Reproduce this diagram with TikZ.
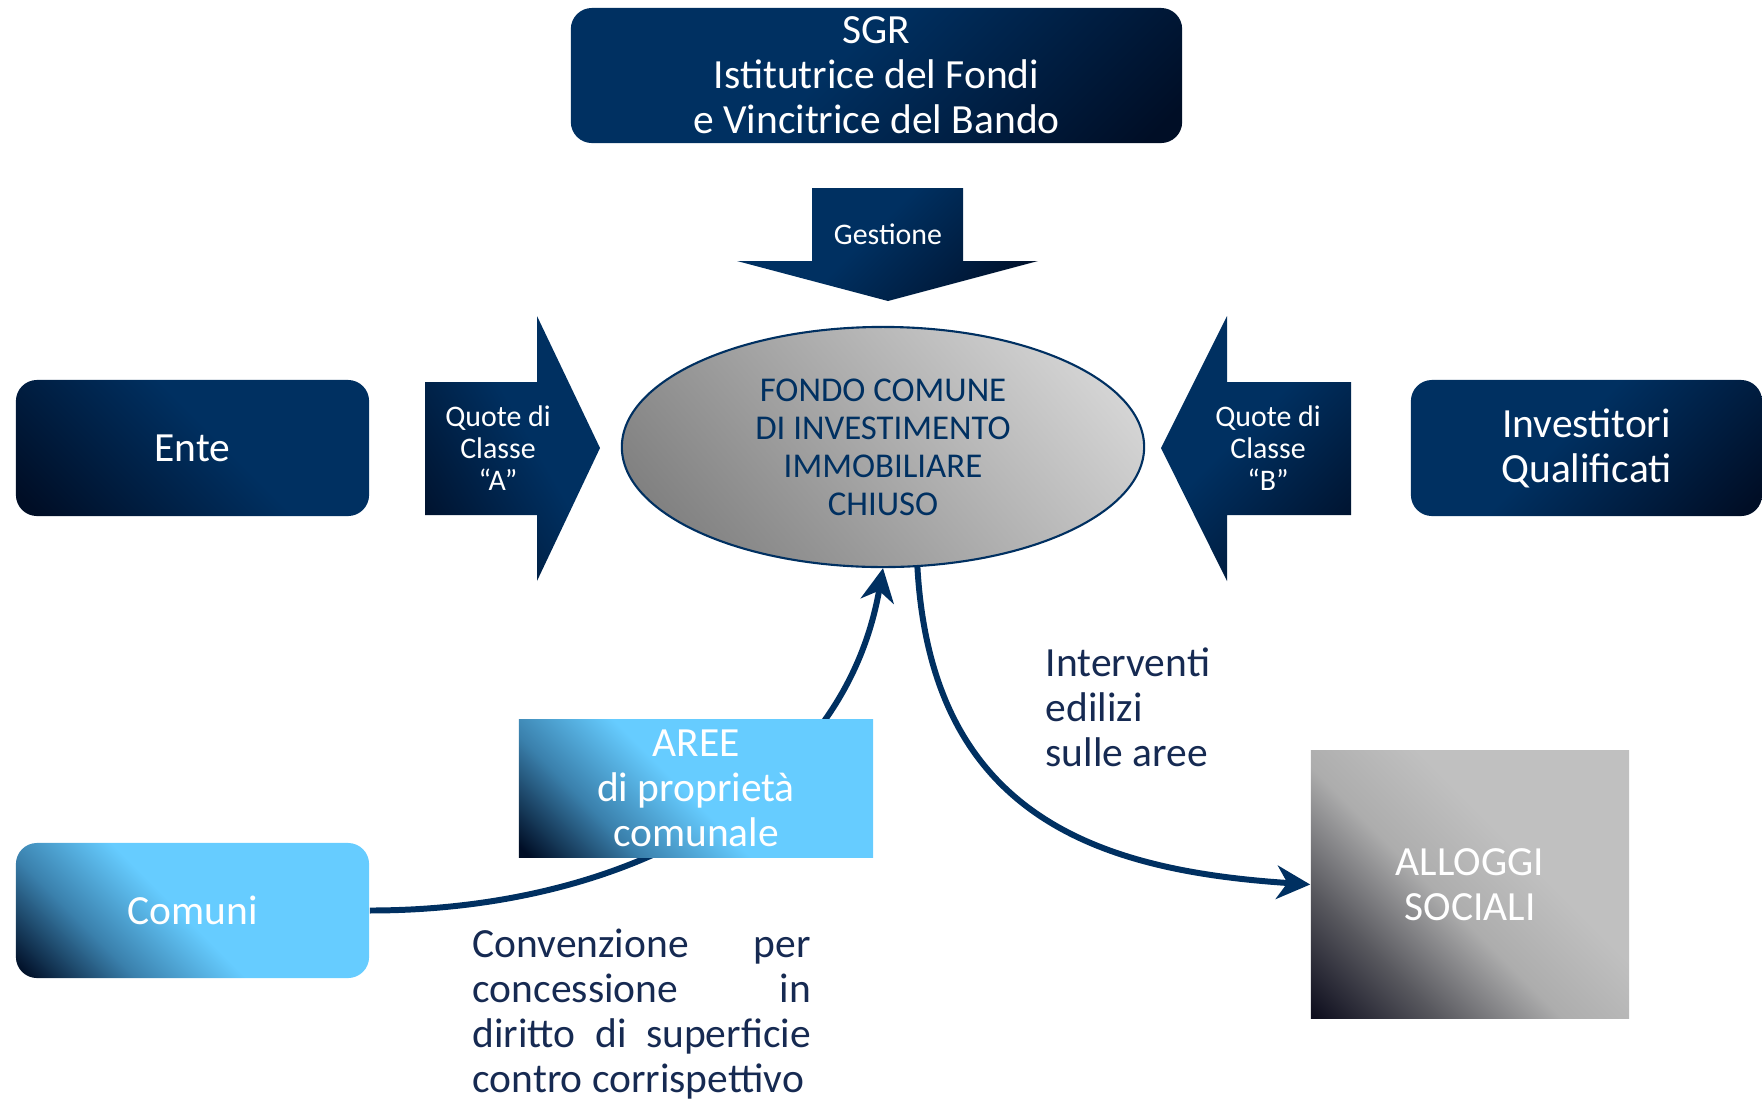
\documentclass[tikz,border=0pt]{standalone}
\usepackage{fontspec}
\setmainfont{Carlito}
\usetikzlibrary{shapes.geometric,arrows.meta}
\definecolor{navy}{RGB}{0,48,97}
\definecolor{navyd}{RGB}{0,14,38}
\definecolor{sky}{RGB}{102,204,255}
\definecolor{skymid}{RGB}{58,128,172}
\definecolor{inknavy}{RGB}{22,42,82}
\definecolor{gdark}{RGB}{14,14,30}
\definecolor{gmid}{RGB}{88,88,94}
\definecolor{glight}{RGB}{192,192,192}
\pgfdeclareverticalshading{navysh}{100bp}{color(0bp)=(navyd); color(18bp)=(navyd); color(55bp)=(navy); color(100bp)=(navy)}
\pgfdeclareverticalshading{skysh}{100bp}{color(0bp)=(navyd); color(16bp)=(navyd); color(32bp)=(skymid); color(48bp)=(sky); color(100bp)=(sky)}
\pgfdeclareverticalshading{greysh}{100bp}{color(0bp)=(gdark); color(15bp)=(gdark); color(30bp)=(gmid); color(45bp)=(glight!70!gray); color(60bp)=(glight); color(100bp)=(glight)}
\pgfdeclareverticalshading{fondosh}{100bp}{color(0bp)=(black!55); color(22bp)=(black!50); color(80bp)=(black!15); color(100bp)=(black!12)}
\begin{document}
\begin{tikzpicture}[x=.01cm,y=-.01cm,
  navybox/.style={rounded corners=6pt,shading=navysh,text=white,inner sep=0pt},
  skybox/.style={shading=skysh,shading angle=-45,text=white,inner sep=0pt},
  big/.style={font=\fontsize{11.8}{12.8}\selectfont,align=center},
  small/.style={font=\fontsize{8.5}{9.1}\selectfont,align=center,text=white},
  flow/.style={line width=1.7pt,draw=navy,-{Stealth[length=9.5pt,width=9.5pt,inset=3pt]}},
  ink/.style={text=inknavy,font=\fontsize{11.8}{12.8}\selectfont,align=left,anchor=west,inner sep=0pt}]
  \useasboundingbox (0,0) rectangle (1762,1102);
  % boxes on top
  \node[navybox,big,shading angle=45,minimum width=6.11cm,minimum height=1.35cm] (sgr) at (876.5,75.5) {SGR\\Istitutrice del Fondi\\e Vincitrice del Bando};
  \shade[shading=navysh,shading angle=45] (812,188) -- (963,188) -- (963,261) -- (1038,261) -- (888,301) -- (737,261) -- (812,261) -- cycle;
  \node[small] (gestione) at (888,234) {Gestione};
  % middle row
  \node[navybox,big,shading angle=-45,minimum width=3.53cm,minimum height=1.36cm] (ente) at (192.5,448) {Ente};
  \shade[shading=navysh,shading angle=-60] (425,382) -- (537,382) -- (537,316) -- (600,448) -- (537,581) -- (537,515) -- (425,515) -- cycle;
  \node[small] (quoteA) at (498,448) {Quote di\\Classe\\“A”};
  \node[ellipse,draw=navy,line width=.6pt,shading=fondosh,shading angle=-50,minimum width=5.22cm,minimum height=2.4cm,inner sep=0pt,text=navy,font=\fontsize{9.9}{10.8}\selectfont,align=center] (fondo) at (883,447) {FONDO COMUNE\\DI INVESTIMENTO\\IMMOBILIARE\\CHIUSO};
  \shade[shading=navysh,shading angle=45] (1351,382) -- (1227,382) -- (1227,316) -- (1161,448) -- (1227,581) -- (1227,515) -- (1351,515) -- cycle;
  \node[small] (quoteB) at (1268,448) {Quote di\\Classe\\“B”};
  \node[navybox,big,shading angle=45,minimum width=3.51cm,minimum height=1.36cm] (investitori) at (1586.5,448) {Investitori\\Qualificati};
  % bottom row
  \node[skybox,rounded corners=6pt,big,minimum width=3.53cm,minimum height=1.35cm] (comuni) at (192.5,910.5) {Comuni};
  \node[shading=greysh,shading angle=-45,text=white,inner sep=0pt,big,minimum width=3.18cm,minimum height=2.67cm] (alloggi) at (1470,884.5) {ALLOGGI\\SOCIALI};
  \draw[flow] (comuni.east) .. controls +(250,0) and +(-40,230) .. (fondo.south);
  \draw[flow] (fondo.-74) .. controls +(14,250) and +(-211,-14) .. (alloggi.west);
  \node[skybox,big,minimum width=3.54cm,minimum height=1.37cm] (aree) at (696,788.5) {AREE\\di proprietà\\comunale};
  \node[ink] (interventi) at (1045,707) {Interventi\\edilizi\\sulle aree};
  \node[ink] (convenzione) at (472,1014.5) {\makebox[3.38cm][s]{Convenzione per}\\\makebox[3.38cm][s]{concessione in}\\\makebox[3.38cm][s]{diritto di superficie}\\contro corrispettivo};
\end{tikzpicture}
\end{document}
